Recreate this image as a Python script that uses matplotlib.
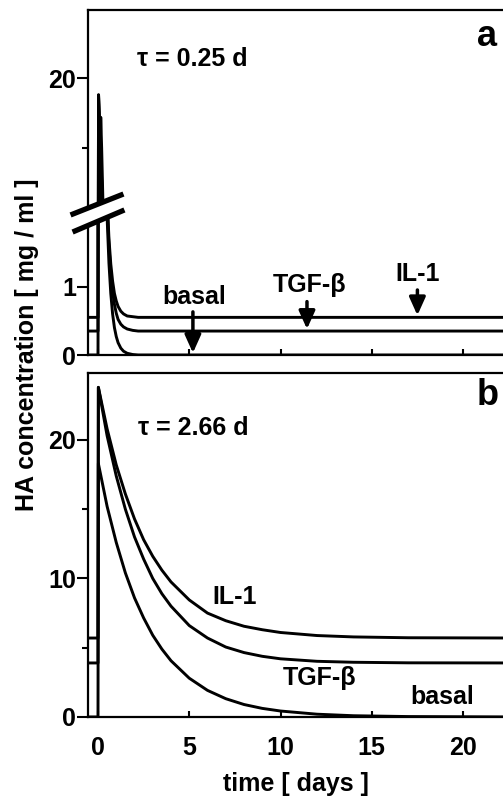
import matplotlib
matplotlib.use('Agg')
import matplotlib.pyplot as plt
from matplotlib.lines import Line2D
from matplotlib.patches import Polygon

plt.rcParams['font.family'] = ['Liberation Sans', 'DejaVu Sans']
plt.rcParams['font.weight'] = 'bold'
plt.rcParams['axes.labelweight'] = 'bold'
plt.rcParams['font.size'] = 18

# panel a (tau = 0.25 d), time in days, HA in mg/ml
a_time = [-1, 0, 0.03, 0.1, 0.2, 0.3, 0.4, 0.5, 0.6, 0.7, 0.8, 0.9, 1.0, 1.1, 1.25, 1.4, 1.6, 1.9, 2.2, 23]
a_il1 = [0.55, 0.55, 18.8, 16.6, 12.8, 8.0, 4.2, 2.3, 1.70, 1.33, 1.08, 0.90, 0.79, 0.71, 0.64, 0.60, 0.57, 0.56, 0.55, 0.55]
a_tgf = [0.35, 0.35, 18.8, 16.4, 12.6, 7.8, 4.0, 2.2, 1.60, 1.20, 0.93, 0.74, 0.61, 0.52, 0.45, 0.41, 0.38, 0.36, 0.35, 0.35]
a_time_basal = [-1, 0, 0.15, 0.2, 0.3, 0.4, 0.5, 0.6, 0.7, 0.8, 0.9, 1.0, 1.1, 1.25, 1.4, 1.6, 1.9, 2.2, 23]
a_basal = [0, 0, 17.2, 15.0, 9.5, 4.5, 2.0, 1.34, 0.90, 0.60, 0.40, 0.27, 0.18, 0.10, 0.055, 0.025, 0.007, 0, 0]

# panel b (tau = 2.66 d)
b_time = [-1, 0, 0.02, 0.5, 1, 1.5, 2, 2.5, 3, 3.5, 4, 5, 6, 7, 8, 9, 10, 12, 14, 17, 23]
b_il1 = [5.7, 5.7, 23.8, 20.8, 18.2, 16.1, 14.3, 12.8, 11.6, 10.6, 9.75, 8.45, 7.5, 6.95, 6.55, 6.3, 6.1, 5.88, 5.78, 5.72, 5.7]
b_tgf = [3.9, 3.9, 23.8, 20.3, 17.4, 15.0, 13.0, 11.4, 10.0, 8.9, 8.0, 6.6, 5.7, 5.05, 4.65, 4.38, 4.2, 4.02, 3.95, 3.91, 3.9]
b_basal = [0, 0, 18.3, 15.2, 12.6, 10.4, 8.6, 7.15, 5.9, 4.9, 4.06, 2.8, 1.92, 1.32, 0.9, 0.62, 0.43, 0.2, 0.09, 0.03, 0]

x_ticks = [0, 5, 10, 15, 20]
xlim = (-0.526, 22.19)

fig = plt.figure(figsize=(5.03, 8.01), dpi=100)
L = 88.4 / 503
W = 1 - L
ax_top = fig.add_axes([L, 0.7328, W, 0.2547])
ax_low = fig.add_axes([L, 0.5568, W, 0.1760])
ax_b = fig.add_axes([L, 0.1049, W, 0.4295])

for ax in (ax_top, ax_low, ax_b):
    ax.spines['right'].set_visible(False)
    for s in ('left', 'top', 'bottom'):
        ax.spines[s].set_linewidth(1.6)
    ax.set_xlim(*xlim)
    ax.tick_params(axis='y', which='major', direction='out', length=8, width=1.5, pad=1)
    ax.tick_params(axis='y', which='minor', direction='out', length=4.5, width=1.5)
    ax.tick_params(axis='x', direction='in', length=4, width=1.5, pad=14, top=False)

# panel a, upper and lower part of the broken axis
for ax in (ax_top, ax_low):
    ax.plot(a_time, a_il1, color='k', lw=2.1)
    ax.plot(a_time, a_tgf, color='k', lw=2.1)
    ax.plot(a_time_basal, a_basal, color='k', lw=2.1)

ax_top.spines['bottom'].set_visible(False)
ax_top.set_ylim(10.29, 24.86)
ax_top.set_yticks([20])
ax_top.set_yticks([15], minor=True)
ax_top.set_xticks([])

ax_low.spines['top'].set_visible(False)
ax_low.set_ylim(0, 2.06)
ax_low.set_yticks([0, 1])
ax_low.set_xticks(x_ticks)
ax_low.set_xticklabels([])

ax_top.text(2.14, 21.36, 'τ = 0.25 d', ha='left', va='center')
ax_top.text(21.3, 23.0, 'a', ha='center', va='center', fontsize=26)

ax_low.text(5.26, 0.85, 'basal', ha='center', va='center')
ax_low.text(11.6, 1.02, 'TGF-β', ha='center', va='center')
ax_low.text(17.5, 1.19, 'IL-1', ha='center', va='center')
arrow = dict(arrowstyle='-|>,head_length=0.6,head_width=0.27', lw=2.5, color='k',
             shrinkA=0, shrinkB=0, mutation_scale=18)
ax_low.annotate('', xy=(5.2, 0.03), xytext=(5.2, 0.63), arrowprops=arrow)
ax_low.annotate('', xy=(11.45, 0.38), xytext=(11.45, 0.78), arrowprops=arrow)
ax_low.annotate('', xy=(17.5, 0.58), xytext=(17.5, 0.95), arrowprops=arrow)

# break marks on the y axis of panel a
def fp(x, y):
    return (x / 503, 1 - y / 801)

gap = Polygon([fp(73, 214), fp(121, 195), fp(122, 211), fp(75, 231)], closed=True,
              transform=fig.transFigure, facecolor='white', edgecolor='none', zorder=5)
fig.add_artist(gap)
for (x0, y0, x1, y1) in [(73, 214, 121, 195), (75, 231, 122, 211)]:
    p0, p1 = fp(x0, y0), fp(x1, y1)
    fig.add_artist(Line2D([p0[0], p1[0]], [p0[1], p1[1]], transform=fig.transFigure,
                          color='k', lw=3.8, zorder=6))

# panel b
ax_b.plot(b_time, b_il1, color='k', lw=2.1)
ax_b.plot(b_time, b_tgf, color='k', lw=2.1)
ax_b.plot(b_time, b_basal, color='k', lw=2.1)
ax_b.set_ylim(0, 24.84)
ax_b.set_yticks([0, 10, 20])
ax_b.set_yticks([5, 15], minor=True)
ax_b.set_xticks(x_ticks)
ax_b.set_xlabel('time [ days ]', labelpad=8, fontweight='bold')

ax_b.text(2.19, 20.87, 'τ = 2.66 d', ha='left', va='center')
ax_b.text(21.37, 23.18, 'b', ha='center', va='center', fontsize=26)
ax_b.text(7.5, 8.66, 'IL-1', ha='center', va='center')
ax_b.text(12.16, 2.82, 'TGF-β', ha='center', va='center')
ax_b.text(18.85, 1.44, 'basal', ha='center', va='center')

fig.text(27 / 503, 1 - 345 / 801, 'HA concentration [ mg / ml ]', rotation=90,
         ha='center', va='center')

fig.savefig('out.png', dpi=100)
